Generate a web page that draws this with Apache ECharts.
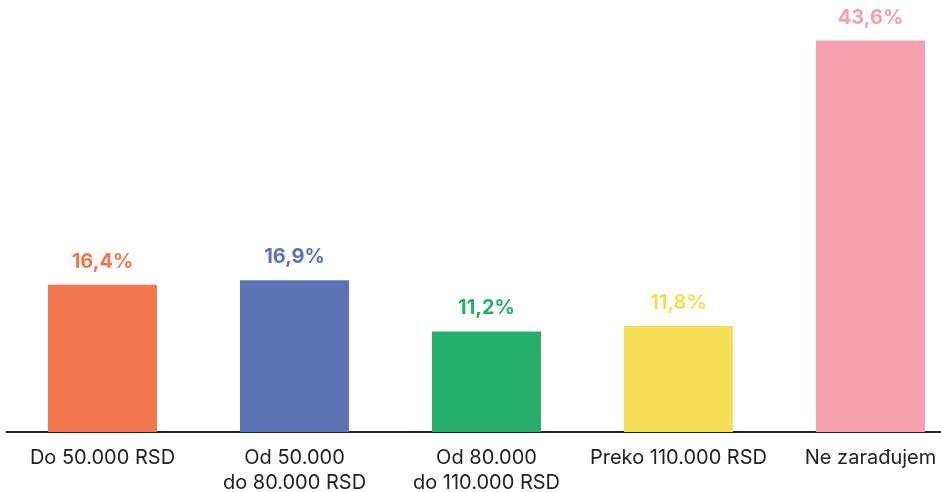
<!DOCTYPE html>
<html>
<head>
<meta charset="utf-8">
<script src="https://cdn.jsdelivr.net/npm/echarts@6/dist/echarts.min.js"></script>
<style>
  html, body { margin: 0; padding: 0; background: #ffffff; overflow: hidden; }
  #chart { width: 941px; height: 492px; }
</style>
</head>
<body>
<div id="chart"></div>
<script>
// categories and values (percent)
const categories = [
  "Do 50.000 RSD",
  "Od 50.000\ndo 80.000 RSD",
  "Od 80.000\ndo 110.000 RSD",
  "Preko 110.000 RSD",
  "Ne zarađujem"
];
const values = [16.4, 16.9, 11.2, 11.8, 43.6];
const barColors = ["#F2774E", "#5B73B5", "#27AE6B", "#F7E057", "#F4A0AF"];

let chart = echarts.init(document.getElementById("chart"));
let option = {
  animation: false,
  grid: {
    left: 6.5,
    right: -25.5,
    top: 28,
    bottom: 60,
    containLabel: false,
    outerBoundsMode: "none"
  },
  xAxis: {
    type: "category",
    data: categories,
    axisLine: {
      lineStyle: { color: "#222222", width: 2 }
    },
    axisTick: { show: false },
    axisLabel: {
      interval: 0,
      margin: 13,
      color: "#222222",
      fontFamily: "Inter",
      fontSize: 20,
      lineHeight: 25
    }
  },
  yAxis: {
    type: "value",
    min: 0,
    max: 45,
    show: false,
    splitLine: { show: false }
  },
  series: [
    {
      type: "bar",
      barWidth: 109,
      data: values.map((v, i) => ({
        value: v,
        itemStyle: { color: barColors[i] },
        label: { color: barColors[i] }
      })),
      label: {
        show: true,
        position: "top",
        distance: 13,
        fontFamily: "Inter",
        fontWeight: "bold",
        fontSize: 20,
        formatter: p => String(p.value).replace(".", ",") + "%"
      }
    }
  ]
};
chart.setOption(option, true);
</script>
</body>
</html>
